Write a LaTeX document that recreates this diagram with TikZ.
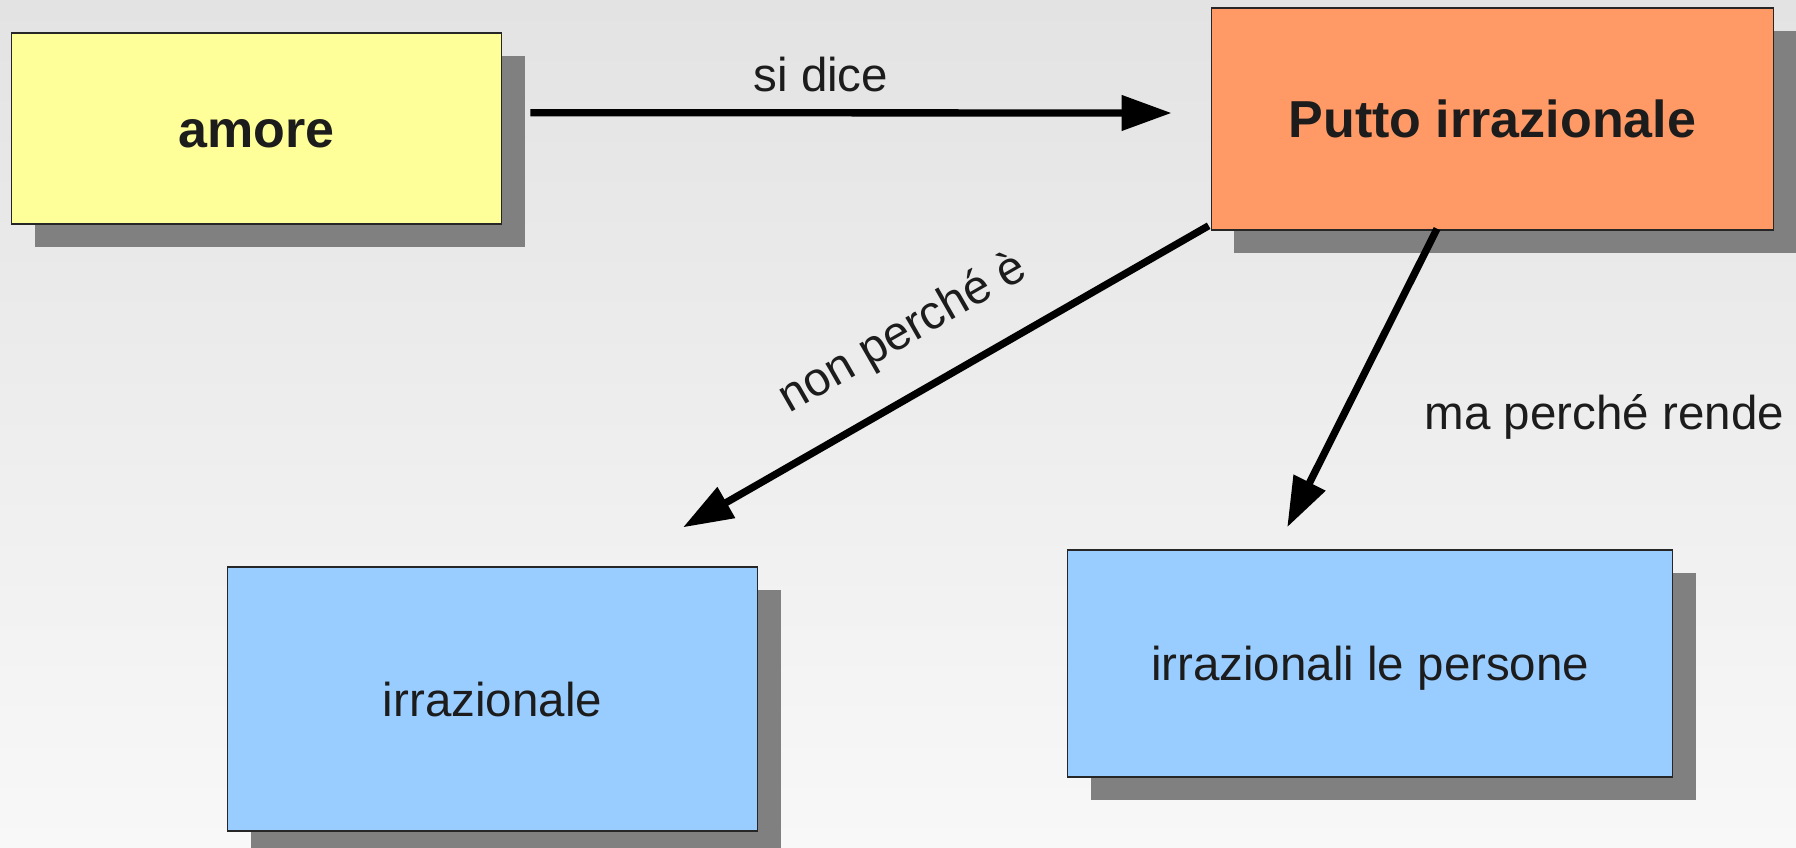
\documentclass[tikz,border=0pt]{standalone}
\usepackage{fontspec}
\setmainfont{Liberation Sans}
\usetikzlibrary{arrows.meta,shadows}
\definecolor{bgtop}{HTML}{E3E3E3}
\definecolor{bgbot}{HTML}{F8F8F8}
\definecolor{yelfill}{HTML}{FFFF99}
\definecolor{orafill}{HTML}{FF9966}
\definecolor{blufill}{HTML}{99CCFF}
\definecolor{shadowgray}{HTML}{808080}
\definecolor{txt}{HTML}{1C1C1C}
\definecolor{edge}{HTML}{262626}
\begin{document}
\begin{tikzpicture}[x=1pt,y=-1pt,
  box/.style={draw=edge, line width=1.5pt, inner sep=0pt, text=txt,
    general shadow={fill=shadowgray, shadow xshift=23pt, shadow yshift=-23pt}},
  boldtxt/.style={font=\fontsize{52}{60}\selectfont\bfseries, text height=37.5pt, text depth=0pt},
  regtxt/.style={font=\fontsize{47.5}{57}\selectfont, text height=34.5pt, text depth=0pt},
  conn/.style={line width=7.3pt, -{Triangle[length=50pt,width=34pt]}},
  lab/.style={font=\fontsize{47.5}{57}\selectfont, text=txt, inner sep=0pt}]
\useasboundingbox (0,0) rectangle (1796,848);
\shade[top color=bgtop, bottom color=bgbot] (0,0) rectangle (1796,848);

\node[box, boldtxt, fill=yelfill, minimum width=490pt, minimum height=191pt] (amore) at (256.6,128.7) {amore};
\node[box, boldtxt, fill=orafill, minimum width=562pt, minimum height=222pt] (putto) at (1492.4,119) {Putto irrazionale};
\node[box, regtxt, fill=blufill, minimum width=530pt, minimum height=264pt] (irr) at (492.5,698.8) {irrazionale};
\node[box, regtxt, fill=blufill, minimum width=605pt, minimum height=227pt] (pers) at (1370.2,663.5) {irrazionali le persone};

\draw[conn] ([xshift=28pt,yshift=16pt]amore.east) -- node[lab, pos=0.453, anchor=base, yshift=21pt]{si dice} ([xshift=-39pt,yshift=6pt]putto.west);
\draw[conn] ([xshift=-2pt,yshift=5pt]putto.south west) -- node[lab, sloped, pos=0.526, anchor=south, inner ysep=32pt]{non perché è} ([xshift=190.5pt,yshift=38.7pt]irr.north);
\draw[conn] ([xshift=-55.4pt,yshift=2pt]putto.south) -- node[lab, pos=0.673, anchor=base west, xshift=85pt]{ma perché rende} ([xshift=-83pt,yshift=22pt]pers.north);
\end{tikzpicture}
\end{document}
